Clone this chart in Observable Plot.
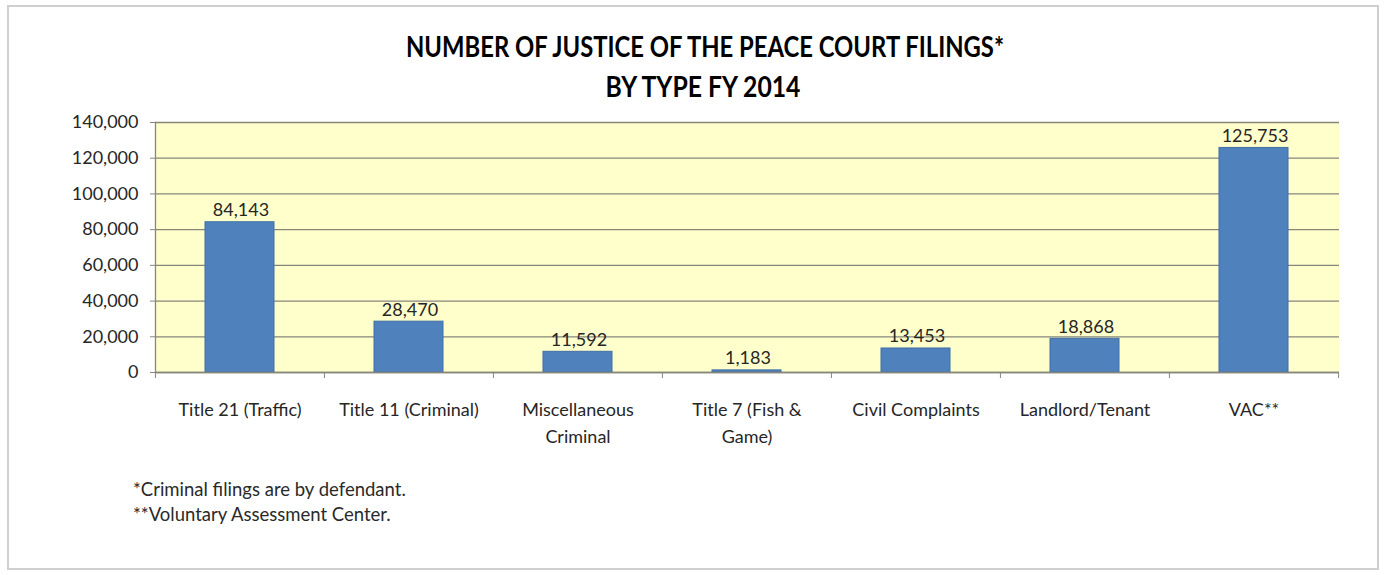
<!DOCTYPE html>
<html>
<head>
<meta charset="utf-8">
<script src="https://cdn.jsdelivr.net/npm/d3@7"></script>
<script src="https://cdn.jsdelivr.net/npm/@observablehq/plot@0.6"></script>
<style>
  html, body { margin: 0; padding: 0; background: #fff; }
  #wrap { position: relative; width: 1385px; height: 575px; overflow: hidden; font-family: Lato, "Open Sans", sans-serif; }
  #border { position: absolute; left: 7px; top: 5px; width: 1372px; height: 565px; border: 2px solid #cfcfcf; box-sizing: border-box; }
  #title { position: absolute; left: 0; top: 0; }
  #chart { position: absolute; left: 0; top: 0; }
  .note { position: absolute; left: 133px; font-size: 18.5px; line-height: 22px; color: #2a2a2a; font-family: Lato, sans-serif; white-space: nowrap; }
</style>
</head>
<body>
<div id="wrap">
  <div id="border"></div>
  <svg id="title" width="1385" height="110">
    <text x="705" y="57" text-anchor="middle" font-family="Lato" font-weight="bold" font-size="29" fill="#000" textLength="598" lengthAdjust="spacingAndGlyphs">NUMBER OF JUSTICE OF THE PEACE COURT FILINGS*</text>
    <text x="703" y="97" text-anchor="middle" font-family="Lato" font-weight="bold" font-size="29" fill="#000" textLength="195" lengthAdjust="spacingAndGlyphs">BY TYPE FY 2014</text>
  </svg>
  <div id="chart"></div>
  <div class="note" style="top:478px">*Criminal filings are by defendant.</div>
  <div class="note" style="top:503px">**Voluntary Assessment Center.</div>
</div>
<script>
const categories = [
  "Title 21 (Traffic)",
  "Title 11 (Criminal)",
  "Miscellaneous\nCriminal",
  "Title 7 (Fish &\nGame)",
  "Civil Complaints",
  "Landlord/Tenant",
  "VAC**"
];
const values = [84143, 28470, 11592, 1183, 13453, 18868, 125753];
const yTicks = [0, 20000, 40000, 60000, 80000, 100000, 120000, 140000];

const data = categories.map((c, i) => ({category: c, value: values[i]}));

const W = 1385, H = 460;
const mL = 155, mR = 46, mT = 122, mB = 88;
const step = (W - mL - mR) / categories.length;
const fmt = d3.format(",");

const chart = Plot.plot({
  width: W,
  height: H,
  marginLeft: mL,
  marginRight: mR,
  marginTop: mT,
  marginBottom: mB,
  style: {fontFamily: "Lato, sans-serif", fontSize: "18px", color: "#262626", background: "transparent"},
  x: {domain: categories, paddingInner: 0.59, paddingOuter: 0.295, label: null},
  y: {domain: [0, 140000], label: null},
  marks: [
    Plot.frame({fill: "#FFFFCC", stroke: null}),
    Plot.gridY(yTicks, {stroke: "#86867c", strokeOpacity: 1, strokeWidth: 1.3}),
    Plot.frame({anchor: "left", stroke: "#86867c", strokeWidth: 1.3}),
    Plot.barY(data, {x: "category", y: "value", fill: "#4F81BD", stroke: "#3F6FA8", strokeWidth: 1}),
    Plot.ruleY([0], {stroke: "#86867c", strokeWidth: 1.5}),
    Plot.text(data, {x: "category", y: "value", text: d => fmt(d.value), lineAnchor: "bottom", dx: 1, dy: -6, fontSize: 18, fill: "#262626"}),
    Plot.axisY({ticks: yTicks, tickSize: 5, tickPadding: 12, tickFormat: fmt, fontSize: 18, stroke: "#86867c", fill: "#262626"}),
    Plot.axisX({tickSize: 6, dx: -step / 2, tickFormat: () => "", stroke: "#86867c"}),
    Plot.axisX({ticks: [categories[categories.length - 1]], tickSize: 6, dx: step / 2, tickFormat: () => "", stroke: "#86867c"}),
    Plot.axisX({tickSize: 0, tickPadding: 24, fontSize: 18, lineHeight: 1.5, fill: "#262626", tickFormat: d => d})
  ]
});
document.getElementById("chart").appendChild(chart);
</script>
</body>
</html>
